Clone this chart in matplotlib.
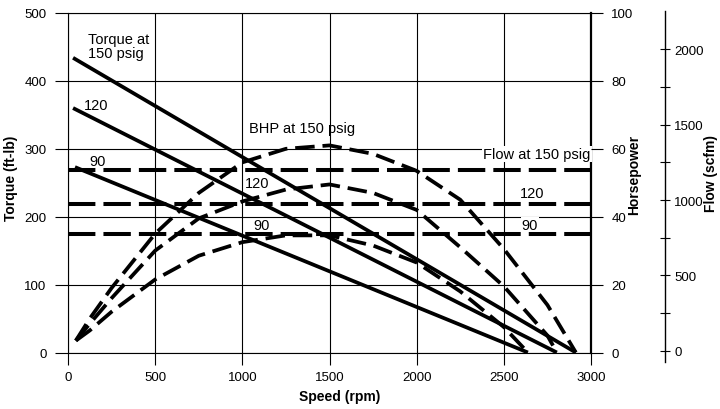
import matplotlib
matplotlib.use("Agg")
import matplotlib.pyplot as plt
from matplotlib import font_manager

# ---------------- data ----------------
speed_ticks = [0, 500, 1000, 1500, 2000, 2500, 3000]
torque_ticks = [0, 100, 200, 300, 400, 500]
hp_ticks = [0, 20, 40, 60, 80, 100]
flow_ticks = [0, 500, 1000, 1500, 2000]
flow_minor = [250, 750, 1250, 1750]

# Torque (straight solid lines)
torque150_rpm = [29, 2913]
torque150 = [434, 0]
torque120_rpm = [29, 2804]
torque120 = [360, 0]
torque90_rpm = [40, 2638]
torque90 = [273, 0]

# Brake horsepower (dashed curves)
bhp150_rpm = [45, 125, 250, 500, 750, 1000, 1250, 1500, 1750, 2000, 2250, 2500, 2750, 2913]
bhp150 = [3.5, 10, 19, 35, 47, 56, 60, 61, 58.5, 53.5, 45, 30.5, 14, 0]
bhp120_rpm = [45, 125, 250, 500, 750, 1000, 1250, 1500, 1750, 2000, 2250, 2500, 2750, 2804]
bhp120 = [3.5, 8.5, 16, 30, 39.5, 44.5, 48, 49.5, 47, 42, 31, 19.5, 5, 0]
bhp90_rpm = [45, 125, 250, 500, 750, 1000, 1250, 1500, 1750, 2000, 2250, 2500, 2638]
bhp90 = [3.5, 6.5, 12, 21.5, 28.5, 32.5, 34.5, 34.5, 31.5, 26.5, 18, 7.5, 0]

# Flow (horizontal dashed lines)
flow_rpm = [0, 3000]
flow150 = [1200, 1200]
flow120 = [975, 975]
flow90 = [775, 775]

# ---------------- fonts ----------------
names = {f.name for f in font_manager.fontManager.ttflist}
narrow = "Liberation Sans Narrow" if "Liberation Sans Narrow" in names else "Liberation Sans"
plt.rcParams["font.family"] = [narrow, "DejaVu Sans"]

fig = plt.figure(figsize=(7.2, 4.1), dpi=100)
W, H = 720.0, 410.0
L, R, B, T = 68, 591, 353.5, 14
ax = fig.add_axes([L / W, 1 - B / H, (R - L) / W, (B - T) / H])
ax.set_xlim(0, 3000)
ax.set_ylim(0, 500)
ax.set_xticks(speed_ticks)
ax.set_yticks(torque_ticks)
ax.grid(True, color="black", linewidth=0.8)
ax.set_axisbelow(True)
for s in ["top", "left", "bottom"]:
    ax.spines[s].set_linewidth(0.8)
ax.spines["right"].set_linewidth(1.6)
ax.tick_params(axis="y", direction="out", length=9.4, width=0.8, pad=6, labelsize=9.5)
ax.tick_params(axis="x", direction="out", length=8.6, width=0.8, pad=5, labelsize=9.5)

ax2 = ax.twinx()
ax2.set_ylim(0, 100)
ax2.set_yticks(hp_ticks)
for s in ["top", "left", "bottom", "right"]:
    ax2.spines[s].set_visible(False)
ax2.tick_params(axis="y", direction="out", length=8.6, width=0.8, pad=6, labelsize=9.5)

ax3 = ax.twinx()
ax3.set_ylim(-12, 2242)
for s in ["top", "left", "bottom"]:
    ax3.spines[s].set_visible(False)
ax3.spines["right"].set_position(("axes", (665 - L) / (R - L)))
ax3.spines["right"].set_bounds(-75, 2256)
ax3.spines["right"].set_linewidth(1.0)
ax3.set_yticks(flow_ticks)
ax3.set_yticks(flow_minor, minor=True)
ax3.tick_params(axis="y", which="both", direction="inout", length=7, width=0.8, pad=3, labelsize=9.5)

lw = 2.7
# torque lines
for xs, ys in [(torque150_rpm, torque150), (torque120_rpm, torque120), (torque90_rpm, torque90)]:
    ax.plot(xs, ys, color="black", linewidth=lw, solid_capstyle="butt")
# BHP curves
for xs, ys in [(bhp150_rpm, bhp150), (bhp120_rpm, bhp120), (bhp90_rpm, bhp90)]:
    ax2.plot(xs, ys, color="black", linewidth=lw, dashes=(5.2, 2.1), clip_on=False)
# flow lines
for ys in [flow150, flow120, flow90]:
    ax3.plot(flow_rpm, ys, color="black", linewidth=lw + 0.2, dashes=(6.8, 2.0))
ax3.set_xlim(0, 3000)

fs = 10.5
ax.text(115, 451, "Torque at\n150 psig", ha="left", va="center", fontsize=fs, linespacing=1.0)
ax.text(161, 364.5, "120", ha="center", va="center", fontsize=fs)
ax.text(172, 282, "90", ha="center", va="center", fontsize=fs)
ax.text(1342, 330.6, "BHP at 150 psig", ha="center", va="center", fontsize=fs)
ax.text(1084, 249.6, "120", ha="center", va="center", fontsize=fs)
ax.text(1113, 187.8, "90", ha="center", va="center", fontsize=fs)
ax.text(2690, 292.3, "Flow at 150 psig", ha="center", va="center", fontsize=fs,
        bbox=dict(facecolor="white", edgecolor="none", pad=1.0), zorder=5)
ax.text(2662, 234.9, "120", ha="center", va="center", fontsize=fs,
        bbox=dict(facecolor="white", edgecolor="none", pad=0.5), zorder=5)
ax.text(2650, 187.8, "90", ha="center", va="center", fontsize=fs,
        bbox=dict(facecolor="white", edgecolor="none", pad=0.5), zorder=5)

fig.text(11 / W, 1 - 178 / H, "Torque (ft-lb)", rotation=90, ha="center", va="center",
         fontsize=10, fontweight="bold")
fig.text(340 / W, 1 - 397 / H, "Speed (rpm)", ha="center", va="center", fontsize=10, fontweight="bold")
fig.text(634 / W, 1 - 175 / H, "Horsepower", rotation=90, ha="center", va="center",
         fontsize=10, fontweight="bold")
fig.text(711 / W, 1 - 174 / H, "Flow (scfm)", rotation=90, ha="center", va="center",
         fontsize=10, fontweight="bold")

fig.savefig("out.png", dpi=100)
